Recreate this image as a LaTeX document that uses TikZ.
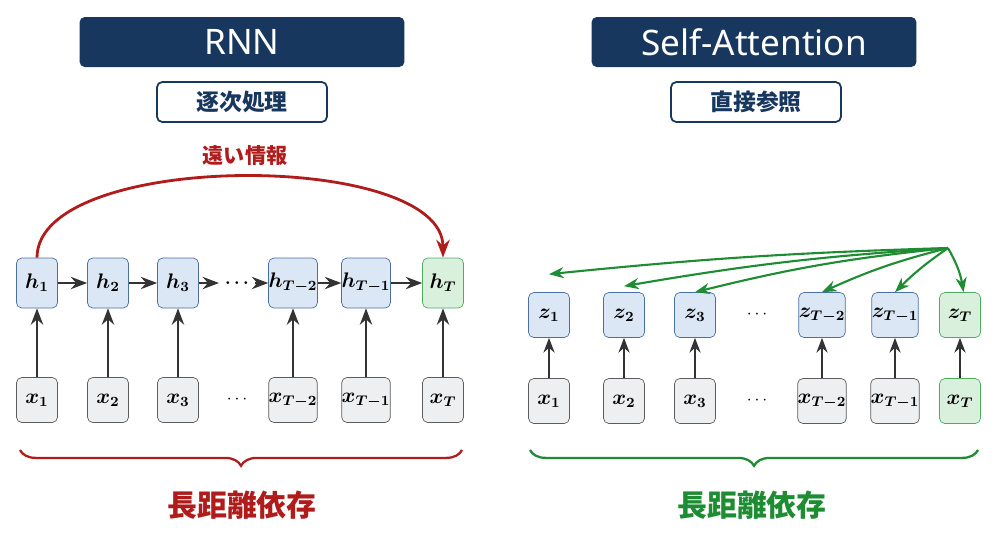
\documentclass[tikz,border=0pt]{standalone}
\usepackage{fontspec}
\usepackage{bm}
\setmainfont{Noto Sans}
\newfontfamily\jp{Noto Sans CJK JP}
\usetikzlibrary{arrows.meta, positioning, decorations.pathreplacing}
\definecolor{navy}{HTML}{17375E}
\definecolor{hblue}{HTML}{DCE7F5}
\definecolor{bblue}{HTML}{4A6FA5}
\definecolor{hgreen}{HTML}{D9F0DC}
\definecolor{bgreen}{HTML}{4CAF60}
\definecolor{xgray}{HTML}{EDEFF1}
\definecolor{darkred}{HTML}{B01C1C}
\definecolor{dgreen}{HTML}{1E8C32}
\definecolor{arr}{HTML}{333333}
\tikzset{>=Stealth,
  title/.style={fill=navy, rounded corners=3pt, minimum width=6.5cm, minimum height=1cm, text=white, font=\fontsize{20}{24}\selectfont\bfseries},
  sub/.style={draw=navy, line width=1pt, fill=white, rounded corners=3pt, minimum width=3.4cm, minimum height=0.8cm, text=navy, font=\jp\fontsize{13}{15}\selectfont\bfseries},
  hid/.style={draw=bblue, fill=hblue, rounded corners=3pt, minimum width=0.82cm, minimum height=1cm, inner sep=0pt, font=\large},
  last/.style={hid, draw=bgreen, fill=hgreen},
  inp/.style={draw=arr!80, fill=xgray, rounded corners=3pt, minimum width=0.82cm, minimum height=0.9cm, inner sep=0pt, font=\large},
  flow/.style={->, arr, line width=1.4pt},
  att/.style={->, dgreen, line width=1.2pt},
  brace/.style={decorate, decoration={brace, mirror, amplitude=9pt}, line width=1.3pt},
  big/.style={font=\jp\fontsize{17}{20}\selectfont\bfseries}
}
\begin{document}
\begin{tikzpicture}[x=0.02cm, y=-0.02cm]
    \useasboundingbox (0,0) rectangle (1000,549);
    % titles
    \node (t1) [title] at (242,42) {RNN};
    \node (t2) [title] at (754,42) {Self-Attention};
    \node (s1) [sub] at (242,102) {逐次処理};
    \node (s2) [sub] at (756,102) {直接参照};

    % RNN
    \node (h1) [hid] at (37,283) {$\bm{h_1}$};
    \node (h2) [hid] at (108,283) {$\bm{h_2}$};
    \node (h3) [hid] at (178,283) {$\bm{h_3}$};
    \node (hd) at (237,283) {$\bm{\cdots}$};
    \node (h4) [hid] at (293,283) {$\bm{h_{T-2}}$};
    \node (h5) [hid] at (366,283) {$\bm{h_{T-1}}$};
    \node (h6) [last] at (443,283) {$\bm{h_T}$};
    \node (x1) [inp] at (37,400) {$\bm{x_1}$};
    \node (x2) [inp] at (108,400) {$\bm{x_2}$};
    \node (x3) [inp] at (178,400) {$\bm{x_3}$};
    \node (xd) at (237,400) {$\cdots$};
    \node (x4) [inp] at (293,400) {$\bm{x_{T-2}}$};
    \node (x5) [inp] at (366,400) {$\bm{x_{T-1}}$};
    \node (x6) [inp] at (443,400) {$\bm{x_T}$};
    \draw [flow] (h1) -- (h2);
    \draw [flow] (h2) -- (h3);
    \draw [flow] (h3) -- (hd);
    \draw [flow] (hd) -- (h4);
    \draw [flow] (h4) -- (h5);
    \draw [flow] (h5) -- (h6);
    \foreach \i in {1,...,6}
        \draw [flow] (x\i) -- (h\i);
    \draw [->, darkred, line width=1.6pt] (h1.north) .. controls (37,150) and (443,150) .. (h6.north);
    \node (far) [darkred, font=\jp\fontsize{12}{14}\selectfont\bfseries] at (245,155) {遠い情報};
    \coordinate (b1) at (20,450);
    \coordinate (b2) at (462,450);
    \draw [brace, darkred] (b1) -- (b2);
    \node (l1) [big, darkred] at (242,505) {長距離依存};

    % Self-Attention
    \node (z1) [hid, minimum height=0.9cm] at (549,315) {$\bm{z_1}$};
    \node (z2) [hid, minimum height=0.9cm] at (624,315) {$\bm{z_2}$};
    \node (z3) [hid, minimum height=0.9cm] at (695,315) {$\bm{z_3}$};
    \node (zd) at (757,315) {$\cdots$};
    \node (z4) [hid, minimum height=0.9cm] at (822,315) {$\bm{z_{T-2}}$};
    \node (z5) [hid, minimum height=0.9cm] at (895,315) {$\bm{z_{T-1}}$};
    \node (z6) [last, minimum height=0.9cm] at (960,315) {$\bm{z_T}$};
    \node (y1) [inp] at (549,401) {$\bm{x_1}$};
    \node (y2) [inp] at (624,401) {$\bm{x_2}$};
    \node (y3) [inp] at (695,401) {$\bm{x_3}$};
    \node (yd) at (757,401) {$\cdots$};
    \node (y4) [inp] at (822,401) {$\bm{x_{T-2}}$};
    \node (y5) [inp] at (895,401) {$\bm{x_{T-1}}$};
    \node (y6) [inp, draw=bgreen, fill=hgreen] at (960,401) {$\bm{x_T}$};
    \foreach \i in {1,...,6}
        \draw [flow, line width=1.2pt] (y\i) -- (z\i);
    \coordinate (src) at (948,248);
    \draw [att] (src) to [bend right=2] ([yshift=0.36cm]z1.north);
    \draw [att] (src) to [bend right=3] ([yshift=0.12cm]z2.north);
    \draw [att] (src) to [bend right=4] (z3.north);
    \draw [att] (src) to [bend right=5] (z4.north);
    \draw [att] (src) to [bend right=5] (z5.north);
    \draw [att] (src) to [bend left=10] ([xshift=2pt]z6.north);
    \coordinate (b3) at (530,450);
    \coordinate (b4) at (978,450);
    \draw [brace, dgreen] (b3) -- (b4);
    \node (l2) [big, dgreen] at (752,505) {長距離依存};
\end{tikzpicture}
\end{document}
